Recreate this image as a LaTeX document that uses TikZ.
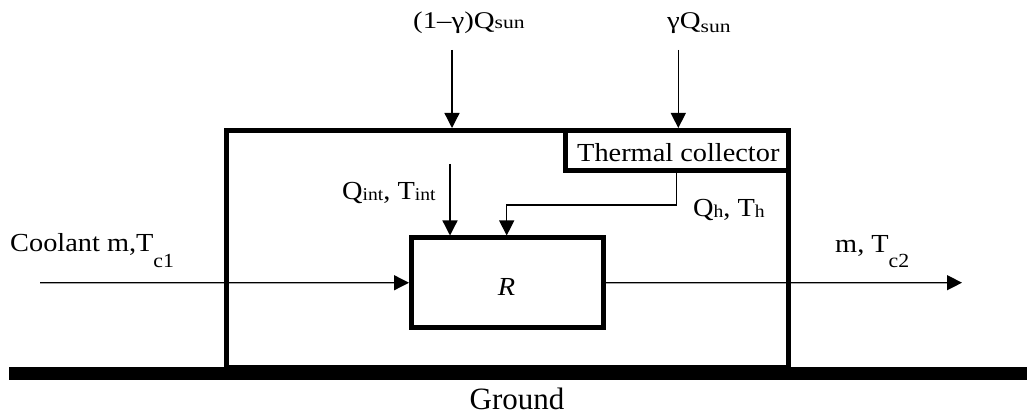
\documentclass[tikz,border=0pt]{standalone}
\usepackage{fontspec}
\setmainfont{Liberation Serif}
\newfontfamily\cam{Liberation Serif}[FakeStretch=1.09]
\newfontfamily\topf{Liberation Serif}[FakeStretch=1.2]
\usetikzlibrary{arrows.meta}
\newcommand{\sbs}[3]{\raisebox{-#1}{\fontsize{#2}{#2}\selectfont #3}}
\tikzset{
  lbl/.style={font=\cam\fontsize{26}{28}\selectfont, inner sep=0pt},
  toplbl/.style={font=\topf\fontsize{24}{26}\selectfont, inner sep=0pt},
  heavy/.style={draw, line width=5pt, inner sep=0pt},
  arr/.style={line width=1.3pt, -{Triangle[length=15pt,width=15pt]}},
}
\begin{document}
\begin{tikzpicture}[x=1pt,y=-1pt]
\useasboundingbox (0,0) rectangle (1027,419);
% outer enclosure
\node[heavy, minimum width=562.5pt, minimum height=236.5pt] (house) at (507.25,248.75) {};
% thermal collector
\node[draw, line width=5pt, inner sep=0pt, minimum width=223.5pt, minimum height=40.5pt] (collector) at (676.75,150.75) {};
\node[lbl, anchor=base west] (coltxt) at (577,162) {Thermal collector};
% R box
\node[heavy, minimum width=192pt, minimum height=89.5pt] (R) at (507.5,282.75) {};
\node[lbl, anchor=base] (Rtxt) at (506.5,295) {\textit{R}};
% ground
\fill (9,367) rectangle (1027,380);
\node[anchor=base, inner sep=0pt, font=\fontsize{31}{33}\selectfont] (ground) at (517,409) {Ground};
% sun inputs
\coordinate (s1) at (452,50);
\coordinate (s2) at (678.3,50);
\draw[arr] (s1) -- (s1 |- house.north);
\draw[arr] (s2) -- (s2 |- house.north);
\node[toplbl, anchor=base west] (l1) at (413,29) {(1–γ)Q\sbs{0pt}{18}{sun}};
\node[toplbl, anchor=base west] (l2) at (667,29) {γQ\sbs{4pt}{18}{sun}};
% internal gains
\coordinate (qi) at (450,164);
\draw[arr] (qi) -- (qi |- R.north);
\node[lbl, anchor=base west] (lint) at (342,200) {Q\sbs{0.5pt}{18}{int}, T\sbs{0.5pt}{18}{int}};
% collector heat
\coordinate (h1) at (676.7,205);
\coordinate (h2) at (506.7,205);
\draw[arr] (collector.south -| h1) -- (h1) -- (h2) -- (h2 |- R.north);
\node[lbl, anchor=base west] (lh) at (693,217) {Q\sbs{0.5pt}{18}{h}, T\sbs{0.5pt}{18}{h}};
% coolant
\coordinate (cin) at (40,282.7);
\coordinate (cout) at (962,282.7);
\draw[arr] (cin) -- (R.west);
\draw[arr] (R.east) -- (cout);
\node[lbl, anchor=base west] (lc1) at (10,252) {Coolant m,T\sbs{16pt}{20}{c1}};
\node[lbl, anchor=base west] (lc2) at (835,253) {m, T\sbs{15pt}{20}{c2}};
\end{tikzpicture}
\end{document}
